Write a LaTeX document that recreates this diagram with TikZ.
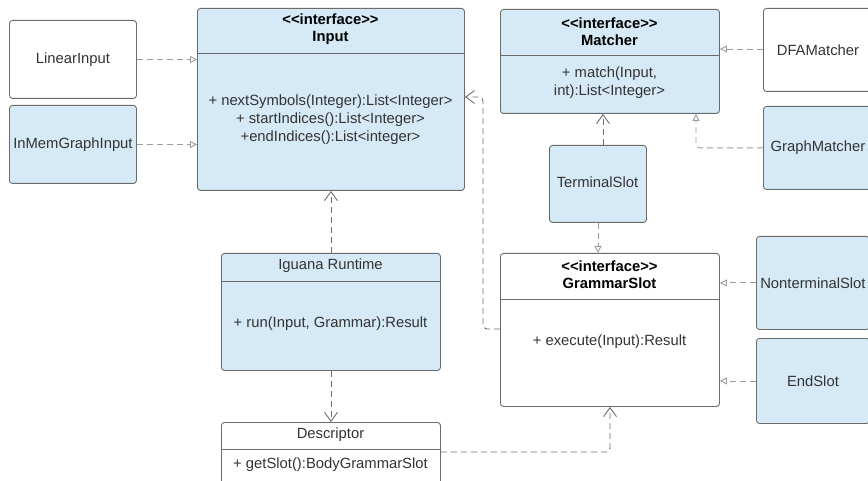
\documentclass[tikz,border=0pt]{standalone}
\usepackage{fontspec}
\setmainfont{Liberation Sans}
\usetikzlibrary{arrows.meta,calc}

\definecolor{boxblue}{HTML}{D5EAF6}
\definecolor{boxedge}{HTML}{6B6B6B}
\definecolor{txt}{HTML}{333333}
\definecolor{reallink}{HTML}{9C9C9C}
\definecolor{deplink}{HTML}{6E6E6E}

% stereotype marker without the << / >> guillemet ligatures
\newcommand{\stereo}[1]{<{}<#1>{}>}

\tikzset{
  box/.style={draw=boxedge, line width=0.9pt, rounded corners=3pt,
    anchor=north west, inner sep=0pt, text=txt,
    font=\fontsize{14.8}{18}\selectfont, align=center},
  bluebox/.style={box, fill=boxblue},
  whitebox/.style={box, fill=white},
  divider/.style={draw=boxedge, line width=0.9pt},
  member/.style={text=txt, font=\fontsize{14.8}{18}\selectfont, align=center, inner sep=0pt},
  head/.style={text=black, font=\fontsize{14.8}{17.5}\selectfont\bfseries, align=center, inner sep=0pt},
  realize/.style={draw=reallink, line width=0.9pt, dash pattern=on 6pt off 4pt,
    rounded corners=4pt, -{Triangle[open, length=7pt, width=7pt]}},
  depend/.style={draw=deplink, line width=0.9pt, dash pattern=on 6pt off 4pt,
    rounded corners=4pt, -{Straight Barb[length=9pt, width=13pt]}},
}

\begin{document}
\begin{tikzpicture}[x=1pt, y=-1pt]
\useasboundingbox (0,0) rectangle (868,481);

% ---- Input interface ----
\node[bluebox, minimum width=267pt, minimum height=182pt] (input) at (197,8) {};
\draw[divider] (input.west |- 0,53) -- (input.east |- 0,53);
\node[head] (inputhead) at (330.5,29) {\stereo{interface}\\Input};
\node[member] (inputbody) at (330.5,120) {+ nextSymbols(Integer):List<Integer>\\+ startIndices():List<Integer>\\+endIndices():List<integer>};

% ---- Input implementations ----
\node[whitebox, minimum width=127pt, minimum height=78pt] (lin) at (9,20) {};
\node[member] (lintext) at (lin.center) {LinearInput};
\node[bluebox, minimum width=127pt, minimum height=78pt] (inmem) at (9,105) {};
\node[member] (inmemtext) at (inmem.center) {InMemGraphInput};

% ---- Matcher interface ----
\node[bluebox, minimum width=219pt, minimum height=104pt] (matcher) at (500,9) {};
\draw[divider] (matcher.west |- 0,55) -- (matcher.east |- 0,55);
\node[head] (matcherhead) at (609.5,31.5) {\stereo{interface}\\Matcher};
\node[member] (matcherbody) at (609.5,83) {+ match(Input,\\int):List<Integer>};

% ---- Matcher implementations ----
\node[whitebox, minimum width=109pt, minimum height=83pt] (dfa) at (763,8) {};
\node[member] (dfatext) at (dfa.center) {DFAMatcher};
\node[bluebox, minimum width=109pt, minimum height=83pt] (gm) at (763,106) {};
\node[member] (gmtext) at (gm.center) {GraphMatcher};

% ---- Slots ----
\node[bluebox, minimum width=97pt, minimum height=77pt] (term) at (549,145) {};
\node[member] (termtext) at (597.5,182) {TerminalSlot};

\node[whitebox, minimum width=219pt, minimum height=153pt] (gs) at (500,253) {};
\draw[divider] (gs.west |- 0,299) -- (gs.east |- 0,299);
\node[head] (gshead) at (609.5,274.5) {\stereo{interface}\\GrammarSlot};
\node[member] (gsbody) at (609.5,342) {+ execute(Input):Result};

\node[bluebox, minimum width=113pt, minimum height=93pt] (nt) at (756,236) {};
\node[member] (nttext) at (nt.center) {NonterminalSlot};
\node[bluebox, minimum width=113pt, minimum height=85pt] (es) at (756,338) {};
\node[member] (estext) at (es.center) {EndSlot};

% ---- Runtime ----
\node[bluebox, minimum width=219pt, minimum height=117pt] (ig) at (221,253) {};
\draw[divider] (ig.west |- 0,281) -- (ig.east |- 0,281);
\node[member] (ighead) at (330.5,266) {Iguana Runtime};
\node[member] (igbody) at (330.5,324) {+ run(Input, Grammar):Result};

\node[whitebox, minimum width=219pt, minimum height=72pt] (desc) at (221,422) {};
\draw[divider] (desc.west |- 0,449) -- (desc.east |- 0,449);
\node[member] (deschead) at (330.5,435) {Descriptor};
\node[member] (descbody) at (330.5,465) {+ getSlot():BodyGrammarSlot};

% ---- Realizations ----
\draw[realize] (lin.east) -- (lin.east -| input.west);
\draw[realize] (inmem.east) -- (inmem.east -| input.west);
\draw[realize] (dfa.west |- 0,49) -- (matcher.east |- 0,49);
\draw[realize] (gm.west) -| (matcher.south -| 696,0);
\draw[realize] (term.south -| 598,0) -- (gs.north -| 598,0);
\draw[realize] (nt.west) -- (nt.west -| gs.east);
\draw[realize] (es.west) -- (es.west -| gs.east);

% ---- Dependencies ----
\coordinate (gsbend) at (483,97);
\draw[depend] (gs.west |- 0,329) -| (gsbend) -- (input.east |- 0,97);
\draw[depend] (term.north -| 603,0) -- (matcher.south -| 603,0);
\draw[depend] (ig.north) -- (ig.north |- input.south);
\draw[depend] (ig.south) -- (desc.north);
\draw[depend] (desc.east |- 0,452) -| (gs.south -| 610,0);
\end{tikzpicture}
\end{document}
